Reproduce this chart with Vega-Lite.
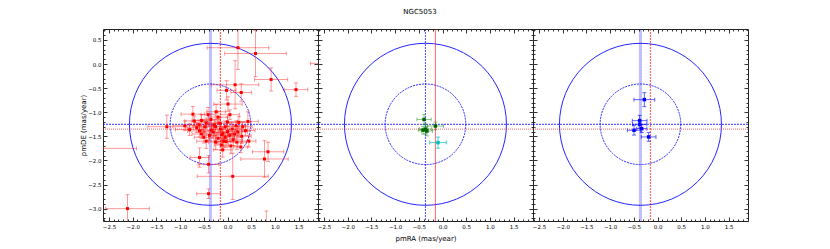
{
 "$schema": "https://vega.github.io/schema/vega-lite/v6.json",
 "background": "white",
 "padding": {"left": 78, "top": 8, "right": 5, "bottom": 5},
 "title": {"text": "NGC5053", "anchor": "middle", "frame": "group", "fontSize": 7, "font": "DejaVu Sans", "fontWeight": "normal", "offset": 12, "dx": 317, "color": "#000"},
 "spacing": 0,
 "bounds": "flush",
 "datasets": {
  "ref": [{"cx": -0.36, "cy": -1.25, "rx": -0.15, "ry": -1.35}],
  "p1": [
   {"x": 0.22, "y": 0.34, "ex": 0.65, "ey": 0.45},
   {"x": 0.59, "y": 0.22, "ex": 0.65, "ey": 0.48},
   {"x": 2.1, "y": 0.01, "ex": 0.35, "ey": 0.02},
   {"x": 0.92, "y": -0.32, "ex": 0.35, "ey": 0.24},
   {"x": 1.445, "y": -0.53, "ex": 0.25, "ey": 0.14},
   {"x": 0.16, "y": -0.43, "ex": 0.5, "ey": 0.5},
   {"x": 0.29, "y": -0.59, "ex": 0.22, "ey": 0.18},
   {"x": -0.02, "y": -0.545, "ex": 0.2, "ey": 0.2},
   {"x": 0.01, "y": -0.83, "ex": 0.3, "ey": 0.15},
   {"x": -0.73, "y": -1.04, "ex": 0.25, "ey": 0.16},
   {"x": 0.43, "y": -1.19, "ex": 0.22, "ey": 0.2},
   {"x": -1.28, "y": -1.3, "ex": 0.4, "ey": 0.24},
   {"x": -2.65, "y": -1.75, "ex": 0.73, "ey": 0.02},
   {"x": 0.855, "y": -1.82, "ex": 0.33, "ey": 0.2},
   {"x": 0.78, "y": -1.97, "ex": 0.5, "ey": 0.38},
   {"x": -0.59, "y": -1.94, "ex": 0.2, "ey": 0.2},
   {"x": -0.4, "y": -2.08, "ex": 0.22, "ey": 0.18},
   {"x": 0.11, "y": -2.33, "ex": 0.75, "ey": 0.48},
   {"x": -0.4, "y": -2.69, "ex": 0.25, "ey": 0.1},
   {"x": -2.11, "y": -3.0, "ex": 0.46, "ey": 0.29},
   {"x": 0.82, "y": -3.32, "ex": 0.1, "ey": 0.27},
   {"x": -0.55, "y": -1.17, "ex": 0.2, "ey": 0.12},
   {"x": -0.41, "y": -1.05, "ex": 0.15, "ey": 0.15},
   {"x": -0.24, "y": -0.99, "ex": 0.2, "ey": 0.15},
   {"x": -0.6, "y": -1.26, "ex": 0.2, "ey": 0.1},
   {"x": -0.8, "y": -1.36, "ex": 0.3, "ey": 0.12},
   {"x": -0.48, "y": -1.3, "ex": 0.25, "ey": 0.12},
   {"x": -0.34, "y": -1.37, "ex": 0.2, "ey": 0.1},
   {"x": -0.16, "y": -1.23, "ex": 0.25, "ey": 0.12},
   {"x": -0.1, "y": -1.44, "ex": 0.2, "ey": 0.12},
   {"x": 0.05, "y": -1.48, "ex": 0.2, "ey": 0.12},
   {"x": -0.2, "y": -1.54, "ex": 0.2, "ey": 0.12},
   {"x": -0.03, "y": -1.61, "ex": 0.2, "ey": 0.12},
   {"x": 0.12, "y": -1.57, "ex": 0.2, "ey": 0.12},
   {"x": -0.13, "y": -1.68, "ex": 0.15, "ey": 0.12},
   {"x": 0.22, "y": -1.41, "ex": 0.2, "ey": 0.12},
   {"x": -0.3, "y": -1.41, "ex": 0.2, "ey": 0.1},
   {"x": -0.59, "y": -1.39, "ex": 0.25, "ey": 0.12},
   {"x": 0.24, "y": -1.21, "ex": 0.25, "ey": 0.12},
   {"x": -0.7, "y": -1.18, "ex": 0.2, "ey": 0.1},
   {"x": -0.45, "y": -1.22, "ex": 0.25, "ey": 0.1},
   {"x": -0.25, "y": -1.3, "ex": 0.2, "ey": 0.12},
   {"x": -0.05, "y": -1.3, "ex": 0.25, "ey": 0.12},
   {"x": 0.1, "y": -1.35, "ex": 0.2, "ey": 0.1},
   {"x": 0.3, "y": -1.5, "ex": 0.2, "ey": 0.15},
   {"x": 0.38, "y": -1.38, "ex": 0.2, "ey": 0.1},
   {"x": 0.0, "y": -1.2, "ex": 0.2, "ey": 0.1},
   {"x": -0.15, "y": -1.35, "ex": 0.2, "ey": 0.12},
   {"x": -0.38, "y": -1.48, "ex": 0.15, "ey": 0.1},
   {"x": -0.5, "y": -1.52, "ex": 0.2, "ey": 0.12},
   {"x": -0.05, "y": -1.52, "ex": 0.2, "ey": 0.1},
   {"x": 0.15, "y": -1.45, "ex": 0.15, "ey": 0.1},
   {"x": 0.2, "y": -1.62, "ex": 0.2, "ey": 0.15},
   {"x": -0.25, "y": -1.62, "ex": 0.15, "ey": 0.15},
   {"x": 0.07, "y": -1.7, "ex": 0.15, "ey": 0.15},
   {"x": -0.1, "y": -1.78, "ex": 0.2, "ey": 0.15},
   {"x": 0.32, "y": -1.3, "ex": 0.2, "ey": 0.1},
   {"x": -0.65, "y": -1.32, "ex": 0.2, "ey": 0.1},
   {"x": -0.9, "y": -1.28, "ex": 0.25, "ey": 0.1},
   {"x": -0.35, "y": -1.15, "ex": 0.2, "ey": 0.12},
   {"x": -0.2, "y": -1.1, "ex": 0.2, "ey": 0.12},
   {"x": 0.05, "y": -1.05, "ex": 0.2, "ey": 0.1},
   {"x": -0.45, "y": -1.6, "ex": 0.2, "ey": 0.15},
   {"x": 0.28, "y": -1.72, "ex": 0.15, "ey": 0.12},
   {"x": 0.0, "y": -1.4, "ex": 0.2, "ey": 0.1},
   {"x": -0.12, "y": -1.47, "ex": 0.15, "ey": 0.12},
   {"x": -0.28, "y": -1.26, "ex": 0.15, "ey": 0.1},
   {"x": 0.45, "y": -1.6, "ex": 0.15, "ey": 0.12},
   {"x": -0.55, "y": -1.45, "ex": 0.2, "ey": 0.1},
   {"x": 0.18, "y": -1.28, "ex": 0.2, "ey": 0.1},
   {"x": -0.08, "y": -1.6, "ex": 0.2, "ey": 0.12}
  ],
  "p2g": [
   {"x": -0.39, "y": -1.15, "ex": 0.15, "ey": 0.1},
   {"x": -0.15, "y": -1.285, "ex": 0.17, "ey": 0.08},
   {"x": -0.36, "y": -1.35, "ex": 0.13, "ey": 0.1},
   {"x": -0.33, "y": -1.39, "ex": 0.12, "ey": 0.1},
   {"x": -0.41, "y": -1.37, "ex": 0.1, "ey": 0.08}
  ],
  "p2c": [
   {"x": -0.095, "y": -1.63, "ex": 0.175, "ey": 0.115}
  ],
  "p3": [
   {"x": -0.278, "y": -0.738, "ex": 0.22, "ey": 0.145},
   {"x": -0.377, "y": -1.174, "ex": 0.155, "ey": 0.11},
   {"x": -0.377, "y": -1.25, "ex": 0.15, "ey": 0.08},
   {"x": -0.334, "y": -1.34, "ex": 0.11, "ey": 0.08},
   {"x": -0.496, "y": -1.374, "ex": 0.14, "ey": 0.1},
   {"x": -0.187, "y": -1.512, "ex": 0.155, "ey": 0.09}
  ]
 },
 "hconcat": [
  {
   "width": 215, "height": 192,
   "resolve": {"axis": {"x": "independent", "y": "independent"}},
   "layer": [
    {"data": {"name": "ref"}, "mark": {"type": "point", "shape": "circle", "size": 26244, "filled": false, "color": "#0000ff", "strokeWidth": 1, "opacity": 0.85},
     "encoding": {
      "x": {"field": "cx", "type": "quantitative", "scale": {"domain": [-2.627, 1.909], "nice": false, "zero": false},
            "axis": {"orient": "bottom", "values": [-2.5, -2, -1.5, -1, -0.5, 0, 0.5, 1, 1.5], "format": ".1f", "tickSize": -4, "labelPadding": 7, "title": null}},
      "y": {"field": "cy", "type": "quantitative", "scale": {"domain": [-3.257, 0.728], "nice": false, "zero": false},
            "axis": {"orient": "left", "values": [-3, -2.5, -2, -1.5, -1, -0.5, 0, 0.5], "format": ".1f", "tickSize": -4, "labelPadding": 6, "title": "pmDE  (mas/year)", "minExtent": 12, "maxExtent": 12, "titlePadding": 5}}}},
    {"data": {"name": "ref"}, "mark": {"type": "point", "shape": "circle", "size": 6496, "filled": false, "color": "#0000ff", "strokeWidth": 1, "opacity": 0.85, "strokeDash": [2, 1]},
     "encoding": {
      "x": {"field": "cx", "type": "quantitative", "axis": {"orient": "top", "values": [-2.5, -2, -1.5, -1, -0.5, 0, 0.5, 1, 1.5], "tickSize": -4, "labels": false, "title": null}},
      "y": {"field": "cy", "type": "quantitative", "axis": {"orient": "right", "values": [-3, -2.5, -2, -1.5, -1, -0.5, 0, 0.5], "tickSize": -4, "labels": false, "title": null}}}},
    {"data": {"name": "ref"}, "mark": {"type": "point", "opacity": 0},
     "encoding": {
      "x": {"field": "cx", "type": "quantitative", "axis": {"orient": "bottom", "values": [-2.6,-2.5,-2.4,-2.3,-2.2,-2.1,-2,-1.9,-1.8,-1.7,-1.6,-1.5,-1.4,-1.3,-1.2,-1.1,-1,-0.9,-0.8,-0.7,-0.6,-0.5,-0.4,-0.3,-0.2,-0.1,0,0.1,0.2,0.3,0.4,0.5,0.6,0.7,0.8,0.9,1,1.1,1.2,1.3,1.4,1.5,1.6,1.7,1.8,1.9], "tickSize": -2, "labels": false, "title": null}},
      "y": {"field": "cy", "type": "quantitative", "axis": {"orient": "left", "values": [-3.2,-3.1,-3,-2.9,-2.8,-2.7,-2.6,-2.5,-2.4,-2.3,-2.2,-2.1,-2,-1.9,-1.8,-1.7,-1.6,-1.5,-1.4,-1.3,-1.2,-1.1,-1,-0.9,-0.8,-0.7,-0.6,-0.5,-0.4,-0.3,-0.2,-0.1,0,0.1,0.2,0.3,0.4,0.5,0.6,0.7], "tickSize": -2, "labels": false, "title": null}}}},
    {"data": {"name": "ref"}, "mark": {"type": "point", "opacity": 0},
     "encoding": {
      "x": {"field": "cx", "type": "quantitative", "axis": {"orient": "top", "values": [-2.6,-2.5,-2.4,-2.3,-2.2,-2.1,-2,-1.9,-1.8,-1.7,-1.6,-1.5,-1.4,-1.3,-1.2,-1.1,-1,-0.9,-0.8,-0.7,-0.6,-0.5,-0.4,-0.3,-0.2,-0.1,0,0.1,0.2,0.3,0.4,0.5,0.6,0.7,0.8,0.9,1,1.1,1.2,1.3,1.4,1.5,1.6,1.7,1.8,1.9], "tickSize": -2, "labels": false, "title": null}},
      "y": {"field": "cy", "type": "quantitative", "axis": {"orient": "right", "values": [-3.2,-3.1,-3,-2.9,-2.8,-2.7,-2.6,-2.5,-2.4,-2.3,-2.2,-2.1,-2,-1.9,-1.8,-1.7,-1.6,-1.5,-1.4,-1.3,-1.2,-1.1,-1,-0.9,-0.8,-0.7,-0.6,-0.5,-0.4,-0.3,-0.2,-0.1,0,0.1,0.2,0.3,0.4,0.5,0.6,0.7], "tickSize": -2, "labels": false, "title": null}}}},
    {"data": {"name": "ref"}, "mark": {"type": "rule", "color": "#0000ff", "strokeDash": [2, 1], "strokeWidth": 1, "opacity": 0.8},
     "encoding": {"y": {"field": "cy", "type": "quantitative", "axis": null}}},
    {"data": {"name": "ref"}, "mark": {"type": "rule", "color": "#ff0000", "strokeDash": [1, 1], "strokeWidth": 1, "opacity": 0.6},
     "encoding": {"y": {"field": "ry", "type": "quantitative", "axis": null}}},
    {"data": {"name": "ref"}, "mark": {"type": "rule", "color": "#0000ff", "strokeWidth": 3, "opacity": 0.25},
     "encoding": {"x": {"field": "cx", "type": "quantitative", "axis": null}}},
    {"data": {"name": "ref"}, "mark": {"type": "rule", "color": "#ff0000", "strokeDash": [2, 1], "strokeWidth": 1.2, "opacity": 0.6},
     "encoding": {"x": {"field": "rx", "type": "quantitative", "axis": null}}},
    {"data": {"name": "p1"}, "mark": {"type": "errorbar", "ticks": {"size": 4}, "color": "#ff0000", "opacity": 0.4, "clip": true},
     "encoding": {"x": {"field": "x", "type": "quantitative", "axis": null}, "xError": {"field": "ex"}, "y": {"field": "y", "type": "quantitative", "axis": null}}},
    {"data": {"name": "p1"}, "mark": {"type": "errorbar", "ticks": {"size": 4}, "color": "#ff0000", "opacity": 0.4, "clip": true},
     "encoding": {"y": {"field": "y", "type": "quantitative", "axis": null}, "yError": {"field": "ey"}, "x": {"field": "x", "type": "quantitative", "axis": null}}},
    {"data": {"name": "p1"}, "mark": {"type": "point", "shape": "square", "filled": true, "size": 9, "color": "#ff0000", "opacity": 1, "clip": true},
     "encoding": {"x": {"field": "x", "type": "quantitative", "axis": null}, "y": {"field": "y", "type": "quantitative", "axis": null}}}
   ]
  },
  {
   "width": 215, "height": 192,
   "resolve": {"axis": {"x": "independent", "y": "independent"}},
   "layer": [
    {"data": {"name": "ref"}, "mark": {"type": "point", "shape": "circle", "size": 26244, "filled": false, "color": "#0000ff", "strokeWidth": 1, "opacity": 0.85},
     "encoding": {
      "x": {"field": "cx", "type": "quantitative", "scale": {"domain": [-2.627, 1.909], "nice": false, "zero": false},
            "axis": {"orient": "bottom", "values": [-2.5, -2, -1.5, -1, -0.5, 0, 0.5, 1, 1.5], "format": ".1f", "tickSize": -4, "labelPadding": 7, "title": "pmRA  (mas/year)", "titlePadding": 5}},
      "y": {"field": "cy", "type": "quantitative", "scale": {"domain": [-3.257, 0.728], "nice": false, "zero": false},
            "axis": {"orient": "left", "values": [-3, -2.5, -2, -1.5, -1, -0.5, 0, 0.5], "tickSize": -4, "labels": false, "title": null}}}},
    {"data": {"name": "ref"}, "mark": {"type": "point", "shape": "circle", "size": 6496, "filled": false, "color": "#0000ff", "strokeWidth": 1, "opacity": 0.85, "strokeDash": [2, 1]},
     "encoding": {
      "x": {"field": "cx", "type": "quantitative", "axis": {"orient": "top", "values": [-2.5, -2, -1.5, -1, -0.5, 0, 0.5, 1, 1.5], "tickSize": -4, "labels": false, "title": null}},
      "y": {"field": "cy", "type": "quantitative", "axis": {"orient": "right", "values": [-3, -2.5, -2, -1.5, -1, -0.5, 0, 0.5], "tickSize": -4, "labels": false, "title": null}}}},
    {"data": {"name": "ref"}, "mark": {"type": "point", "opacity": 0},
     "encoding": {
      "x": {"field": "cx", "type": "quantitative", "axis": {"orient": "bottom", "values": [-2.6,-2.5,-2.4,-2.3,-2.2,-2.1,-2,-1.9,-1.8,-1.7,-1.6,-1.5,-1.4,-1.3,-1.2,-1.1,-1,-0.9,-0.8,-0.7,-0.6,-0.5,-0.4,-0.3,-0.2,-0.1,0,0.1,0.2,0.3,0.4,0.5,0.6,0.7,0.8,0.9,1,1.1,1.2,1.3,1.4,1.5,1.6,1.7,1.8,1.9], "tickSize": -2, "labels": false, "title": null}},
      "y": {"field": "cy", "type": "quantitative", "axis": {"orient": "left", "values": [-3.2,-3.1,-3,-2.9,-2.8,-2.7,-2.6,-2.5,-2.4,-2.3,-2.2,-2.1,-2,-1.9,-1.8,-1.7,-1.6,-1.5,-1.4,-1.3,-1.2,-1.1,-1,-0.9,-0.8,-0.7,-0.6,-0.5,-0.4,-0.3,-0.2,-0.1,0,0.1,0.2,0.3,0.4,0.5,0.6,0.7], "tickSize": -2, "labels": false, "title": null}}}},
    {"data": {"name": "ref"}, "mark": {"type": "point", "opacity": 0},
     "encoding": {
      "x": {"field": "cx", "type": "quantitative", "axis": {"orient": "top", "values": [-2.6,-2.5,-2.4,-2.3,-2.2,-2.1,-2,-1.9,-1.8,-1.7,-1.6,-1.5,-1.4,-1.3,-1.2,-1.1,-1,-0.9,-0.8,-0.7,-0.6,-0.5,-0.4,-0.3,-0.2,-0.1,0,0.1,0.2,0.3,0.4,0.5,0.6,0.7,0.8,0.9,1,1.1,1.2,1.3,1.4,1.5,1.6,1.7,1.8,1.9], "tickSize": -2, "labels": false, "title": null}},
      "y": {"field": "cy", "type": "quantitative", "axis": {"orient": "right", "values": [-3.2,-3.1,-3,-2.9,-2.8,-2.7,-2.6,-2.5,-2.4,-2.3,-2.2,-2.1,-2,-1.9,-1.8,-1.7,-1.6,-1.5,-1.4,-1.3,-1.2,-1.1,-1,-0.9,-0.8,-0.7,-0.6,-0.5,-0.4,-0.3,-0.2,-0.1,0,0.1,0.2,0.3,0.4,0.5,0.6,0.7], "tickSize": -2, "labels": false, "title": null}}}},
    {"data": {"name": "ref"}, "mark": {"type": "rule", "color": "#0000ff", "strokeDash": [2, 1], "strokeWidth": 1, "opacity": 0.8},
     "encoding": {"y": {"field": "cy", "type": "quantitative", "axis": null}}},
    {"data": {"name": "ref"}, "mark": {"type": "rule", "color": "#ff0000", "strokeDash": [1, 1], "strokeWidth": 1, "opacity": 0.6},
     "encoding": {"y": {"field": "ry", "type": "quantitative", "axis": null}}},
    {"data": {"name": "ref"}, "mark": {"type": "rule", "color": "#0000ff", "strokeDash": [2, 1], "strokeWidth": 1, "opacity": 0.7},
     "encoding": {"x": {"field": "cx", "type": "quantitative", "axis": null}}},
    {"data": {"name": "ref"}, "mark": {"type": "rule", "color": "#ff0000", "strokeWidth": 1, "opacity": 0.6},
     "encoding": {"x": {"field": "rx", "type": "quantitative", "axis": null}}},
    {"data": {"name": "p2g"}, "mark": {"type": "errorbar", "ticks": {"size": 4}, "color": "#008000", "opacity": 0.45, "clip": true},
     "encoding": {"x": {"field": "x", "type": "quantitative", "axis": null}, "xError": {"field": "ex"}, "y": {"field": "y", "type": "quantitative", "axis": null}}},
    {"data": {"name": "p2g"}, "mark": {"type": "errorbar", "ticks": {"size": 4}, "color": "#008000", "opacity": 0.45, "clip": true},
     "encoding": {"y": {"field": "y", "type": "quantitative", "axis": null}, "yError": {"field": "ey"}, "x": {"field": "x", "type": "quantitative", "axis": null}}},
    {"data": {"name": "p2g"}, "mark": {"type": "point", "shape": "square", "filled": true, "size": 12, "color": "#006400", "opacity": 1, "clip": true},
     "encoding": {"x": {"field": "x", "type": "quantitative", "axis": null}, "y": {"field": "y", "type": "quantitative", "axis": null}}},
    {"data": {"name": "p2c"}, "mark": {"type": "errorbar", "ticks": {"size": 4}, "color": "#00bfbf", "opacity": 0.7, "clip": true},
     "encoding": {"x": {"field": "x", "type": "quantitative", "axis": null}, "xError": {"field": "ex"}, "y": {"field": "y", "type": "quantitative", "axis": null}}},
    {"data": {"name": "p2c"}, "mark": {"type": "errorbar", "ticks": {"size": 4}, "color": "#00bfbf", "opacity": 0.7, "clip": true},
     "encoding": {"y": {"field": "y", "type": "quantitative", "axis": null}, "yError": {"field": "ey"}, "x": {"field": "x", "type": "quantitative", "axis": null}}},
    {"data": {"name": "p2c"}, "mark": {"type": "point", "shape": "square", "filled": true, "size": 12, "color": "#00bfbf", "opacity": 1, "clip": true},
     "encoding": {"x": {"field": "x", "type": "quantitative", "axis": null}, "y": {"field": "y", "type": "quantitative", "axis": null}}}
   ]
  },
  {
   "width": 215, "height": 192,
   "resolve": {"axis": {"x": "independent", "y": "independent"}},
   "layer": [
    {"data": {"name": "ref"}, "mark": {"type": "point", "shape": "circle", "size": 26244, "filled": false, "color": "#0000ff", "strokeWidth": 1, "opacity": 0.85},
     "encoding": {
      "x": {"field": "cx", "type": "quantitative", "scale": {"domain": [-2.627, 1.909], "nice": false, "zero": false},
            "axis": {"orient": "bottom", "values": [-2.5, -2, -1.5, -1, -0.5, 0, 0.5, 1, 1.5], "format": ".1f", "tickSize": -4, "labelPadding": 7, "title": null}},
      "y": {"field": "cy", "type": "quantitative", "scale": {"domain": [-3.257, 0.728], "nice": false, "zero": false},
            "axis": {"orient": "left", "values": [-3, -2.5, -2, -1.5, -1, -0.5, 0, 0.5], "tickSize": -4, "labels": false, "title": null}}}},
    {"data": {"name": "ref"}, "mark": {"type": "point", "shape": "circle", "size": 6496, "filled": false, "color": "#0000ff", "strokeWidth": 1, "opacity": 0.85, "strokeDash": [2, 1]},
     "encoding": {
      "x": {"field": "cx", "type": "quantitative", "axis": {"orient": "top", "values": [-2.5, -2, -1.5, -1, -0.5, 0, 0.5, 1, 1.5], "tickSize": -4, "labels": false, "title": null}},
      "y": {"field": "cy", "type": "quantitative", "axis": {"orient": "right", "values": [-3, -2.5, -2, -1.5, -1, -0.5, 0, 0.5], "tickSize": -4, "labels": false, "title": null}}}},
    {"data": {"name": "ref"}, "mark": {"type": "point", "opacity": 0},
     "encoding": {
      "x": {"field": "cx", "type": "quantitative", "axis": {"orient": "bottom", "values": [-2.6,-2.5,-2.4,-2.3,-2.2,-2.1,-2,-1.9,-1.8,-1.7,-1.6,-1.5,-1.4,-1.3,-1.2,-1.1,-1,-0.9,-0.8,-0.7,-0.6,-0.5,-0.4,-0.3,-0.2,-0.1,0,0.1,0.2,0.3,0.4,0.5,0.6,0.7,0.8,0.9,1,1.1,1.2,1.3,1.4,1.5,1.6,1.7,1.8,1.9], "tickSize": -2, "labels": false, "title": null}},
      "y": {"field": "cy", "type": "quantitative", "axis": {"orient": "left", "values": [-3.2,-3.1,-3,-2.9,-2.8,-2.7,-2.6,-2.5,-2.4,-2.3,-2.2,-2.1,-2,-1.9,-1.8,-1.7,-1.6,-1.5,-1.4,-1.3,-1.2,-1.1,-1,-0.9,-0.8,-0.7,-0.6,-0.5,-0.4,-0.3,-0.2,-0.1,0,0.1,0.2,0.3,0.4,0.5,0.6,0.7], "tickSize": -2, "labels": false, "title": null}}}},
    {"data": {"name": "ref"}, "mark": {"type": "point", "opacity": 0},
     "encoding": {
      "x": {"field": "cx", "type": "quantitative", "axis": {"orient": "top", "values": [-2.6,-2.5,-2.4,-2.3,-2.2,-2.1,-2,-1.9,-1.8,-1.7,-1.6,-1.5,-1.4,-1.3,-1.2,-1.1,-1,-0.9,-0.8,-0.7,-0.6,-0.5,-0.4,-0.3,-0.2,-0.1,0,0.1,0.2,0.3,0.4,0.5,0.6,0.7,0.8,0.9,1,1.1,1.2,1.3,1.4,1.5,1.6,1.7,1.8,1.9], "tickSize": -2, "labels": false, "title": null}},
      "y": {"field": "cy", "type": "quantitative", "axis": {"orient": "right", "values": [-3.2,-3.1,-3,-2.9,-2.8,-2.7,-2.6,-2.5,-2.4,-2.3,-2.2,-2.1,-2,-1.9,-1.8,-1.7,-1.6,-1.5,-1.4,-1.3,-1.2,-1.1,-1,-0.9,-0.8,-0.7,-0.6,-0.5,-0.4,-0.3,-0.2,-0.1,0,0.1,0.2,0.3,0.4,0.5,0.6,0.7], "tickSize": -2, "labels": false, "title": null}}}},
    {"data": {"name": "ref"}, "mark": {"type": "rule", "color": "#0000ff", "strokeDash": [2, 1], "strokeWidth": 1, "opacity": 0.8},
     "encoding": {"y": {"field": "cy", "type": "quantitative", "axis": null}}},
    {"data": {"name": "ref"}, "mark": {"type": "rule", "color": "#ff0000", "strokeDash": [1, 1], "strokeWidth": 1, "opacity": 0.6},
     "encoding": {"y": {"field": "ry", "type": "quantitative", "axis": null}}},
    {"data": {"name": "ref"}, "mark": {"type": "rule", "color": "#0000ff", "strokeWidth": 3, "opacity": 0.25},
     "encoding": {"x": {"field": "cx", "type": "quantitative", "axis": null}}},
    {"data": {"name": "ref"}, "mark": {"type": "rule", "color": "#ff0000", "strokeDash": [2, 1], "strokeWidth": 1.2, "opacity": 0.6},
     "encoding": {"x": {"field": "rx", "type": "quantitative", "axis": null}}},
    {"data": {"name": "p3"}, "mark": {"type": "errorbar", "ticks": {"size": 4}, "color": "#0000ff", "opacity": 0.6, "clip": true},
     "encoding": {"x": {"field": "x", "type": "quantitative", "axis": null}, "xError": {"field": "ex"}, "y": {"field": "y", "type": "quantitative", "axis": null}}},
    {"data": {"name": "p3"}, "mark": {"type": "errorbar", "ticks": {"size": 4}, "color": "#0000ff", "opacity": 0.6, "clip": true},
     "encoding": {"y": {"field": "y", "type": "quantitative", "axis": null}, "yError": {"field": "ey"}, "x": {"field": "x", "type": "quantitative", "axis": null}}},
    {"data": {"name": "p3"}, "mark": {"type": "point", "shape": "square", "filled": true, "size": 12, "color": "#0000ff", "opacity": 1, "clip": true},
     "encoding": {"x": {"field": "x", "type": "quantitative", "axis": null}, "y": {"field": "y", "type": "quantitative", "axis": null}}}
   ]
  }
 ],
 "config": {
  "view": {"stroke": "#222", "strokeWidth": 1},
  "axis": {"labelFont": "DejaVu Sans", "labelFontSize": 5.5, "labelColor": "#000", "titleFont": "DejaVu Sans", "titleFontSize": 7, "titleFontWeight": "normal", "titleColor": "#000", "tickColor": "#333", "grid": false, "domain": false}
 }
}
